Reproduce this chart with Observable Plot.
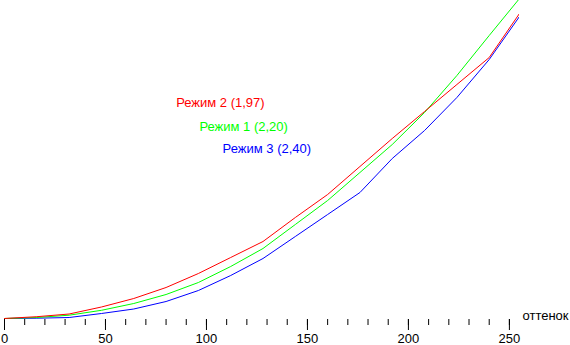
<!DOCTYPE html>
<html><head><meta charset="utf-8">
<script src="https://cdn.jsdelivr.net/npm/d3@7"></script>
<script src="https://cdn.jsdelivr.net/npm/@observablehq/plot@0.6"></script>
<style>body{margin:0;background:#fff}</style>
</head><body><div id="chart"></div>
<script>
// hue (оттенок) sample points
const hue = [0,16,32,48,64,80,96,112,128,144,160,176,192,208,224,240,255];
// brightness curves (relative units)
const mode2 = [0,1.8,4.5,11.5,20,31,45,61,77,101,124,152,180,207,234,261,305];
const mode1 = [0,1,3.3,8.2,15,24,36,52,70,94,118,146,174,206,243,283,320];
const mode3 = [0,0.3,1,5,9.5,17,28,43,60,82,104,126,160,188,221,259,302];
const seriesNames = ["Режим 2 (1,97)", "Режим 1 (2,20)", "Режим 3 (2,40)"];
const majorTicks = [0,50,100,150,200,250];
const minorTicks = [0,10,20,30,40,50,60,70,80,90,100,110,120,130,140,150,160,170,180,190,200,210,220,230,240,250];
const axisTitle = "оттенок";

const rows = vals => hue.map((h, i) => ({x: h, y: vals[i]}));

const chart = Plot.plot({
  width: 570, height: 345,
  marginLeft: 4, marginRight: 51, marginTop: 0, marginBottom: 26,
  insetBottom: 1,
  style: {fontFamily: "'Liberation Sans', Arial, sans-serif", fontSize: "13px", background: "#fff", color: "#000"},
  x: {domain: [0, 255]},
  y: {domain: [0, 318], axis: null},
  marks: [
    Plot.axisX({ticks: minorTicks, tickSize: 6, tickFormat: () => "", label: null, stroke: "#000", strokeOpacity: 1}),
    Plot.axisX({ticks: majorTicks, tickSize: 11, tickPadding: 3, line: true, label: null, stroke: "#000", strokeOpacity: 1, fontSize: 13}),
    Plot.line(rows(mode3), {x: "x", y: "y", stroke: "#0000ff", strokeWidth: 1, clip: true}),
    Plot.line(rows(mode1), {x: "x", y: "y", stroke: "#00ff00", strokeWidth: 1, clip: true}),
    Plot.line(rows(mode2), {x: "x", y: "y", stroke: "#ff0000", strokeWidth: 1, clip: true}),
    Plot.text([seriesNames[0]], {x: 85, y: 216, fill: "#ff0000", textAnchor: "start", fontSize: 13}),
    Plot.text([seriesNames[1]], {x: 96.5, y: 192, fill: "#00ff00", textAnchor: "start", fontSize: 13}),
    Plot.text([seriesNames[2]], {x: 108, y: 170, fill: "#0000ff", textAnchor: "start", fontSize: 13}),
    Plot.text([axisTitle], {frameAnchor: "bottom-right", dx: 3, dy: 0, textAnchor: "start", fill: "#000", fontSize: 13})
  ]
});
document.getElementById("chart").appendChild(chart);
</script>
</body></html>
